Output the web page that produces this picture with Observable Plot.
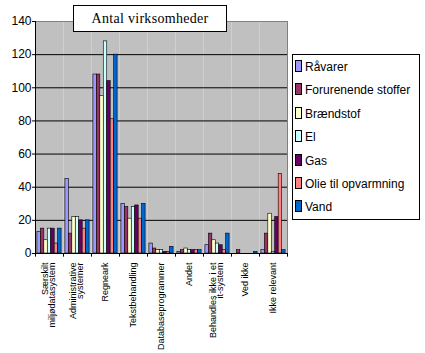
<!DOCTYPE html>
<html>
<head>
<meta charset="utf-8">
<script src="https://cdn.jsdelivr.net/npm/d3@7"></script>
<script src="https://cdn.jsdelivr.net/npm/@observablehq/plot@0.6"></script>
<style>
  html, body { margin: 0; padding: 0; background: white; }
  #wrap { position: relative; width: 425px; height: 353px; overflow: hidden; }
  #title { position: absolute; left: 73px; top: 5px; width: 152px; height: 25px; border: 1px solid black; background: white;
           font-family: "Liberation Serif", "Times New Roman", serif; font-size: 14px; line-height: 25px; text-align: center; letter-spacing: 0.3px; }
  #legend { position: absolute; left: 292px; top: 54px; width: 126px; height: 164px; border: 1px solid black; background: white;
            font-family: "Liberation Sans", Arial, sans-serif; font-size: 12px; }
  .item { position: absolute; left: 2px; height: 14px; line-height: 14px; white-space: nowrap; }
  .sw { display: inline-block; width: 5px; height: 10px; border: 1px solid black; vertical-align: -1px; margin-right: 3px; }
</style>
</head>
<body>
<div id="wrap">
  <div id="chart"></div>
  <div id="title">Antal virksomheder</div>
  <div id="legend"></div>
</div>
<script>
const categories = [
  "Særskilt\nmiljødatasystem",
  "Administrative\nsystemer",
  "Regneark",
  "Tekstbehandling",
  "Databaseprogrammer",
  "Andet",
  "Behandles ikke i et\nit-system",
  "Ved ikke",
  "Ikke relevant"
];
const series = ["Råvarer", "Forurenende stoffer", "Brændstof", "El", "Gas", "Olie til opvarmning", "Vand"];
const colors = ["#9999ff", "#993366", "#ffffcc", "#ccffff", "#660066", "#ff8080", "#0066cc"];

const raavarer    = [13, 45, 108, 30, 6, 1, 5, 0, 2];
const forurenende = [15, 12, 108, 28, 3, 2, 12, 2, 12];
const braendstof  = [8, 22, 95, 21, 2, 3, 8, 0, 24];
const el          = [15, 22, 128, 28, 2, 2, 6, 0, 1];
const gas         = [15, 20, 104, 29, 1, 2, 5, 0, 22];
const olie        = [6, 15, 81, 21, 1, 2, 2, 0, 48];
const vand        = [15, 20, 120, 30, 4, 2, 12, 1, 2];

const yTicks = [0, 20, 40, 60, 80, 100, 120, 140];
const xDom = [-0.55, 7.55];

const values = [raavarer, forurenende, braendstof, el, gas, olie, vand];
const rows = [];
categories.forEach((c, ci) => {
  series.forEach((s, si) => {
    rows.push({category: c, series: s, si, value: values[si][ci]});
  });
});
const first = categories[0];
const last = categories[categories.length - 1];

const chart = Plot.plot({
  width: 425,
  height: 353,
  marginTop: 21,
  marginLeft: 35,
  marginRight: 138,
  marginBottom: 100,
  style: {fontFamily: "Liberation Sans, Arial, sans-serif", background: "transparent"},
  fx: {domain: categories, padding: 0, axis: null},
  x: {domain: xDom, axis: null},
  y: {domain: [0, 140], axis: null},
  color: {domain: series, range: colors},
  marks: [
    Plot.frame({fill: "#c0c0c0", stroke: null}),
    Plot.ruleY(yTicks.slice(1, -1), {stroke: "black", strokeWidth: 1}),
    Plot.ruleY([140], {stroke: "#808080"}),
    Plot.rect(rows, {fx: "category", x1: "si", x2: d => d.si + 1, y1: 0, y2: "value", fill: "series", stroke: "black", strokeWidth: 0.6}),
    Plot.ruleY([0], {stroke: "black"}),
    Plot.ruleX(categories, {fx: d => d, x: xDom[0], y1: 0, y2: -2.2, stroke: "black"}),
    Plot.ruleX([last], {fx: d => d, x: xDom[1], y1: 0, y2: -2.2, stroke: "black"}),
    Plot.ruleX([first], {fx: d => d, x: xDom[0], y1: 0, y2: 140, stroke: "black"}),
    Plot.ruleX([last], {fx: d => d, x: xDom[1], y1: 0, y2: 140, stroke: "#808080"}),
    Plot.axisY(yTicks, {anchor: "left", tickSize: 3, tickPadding: 1, fontSize: 12, label: null}),
    Plot.axisFx({anchor: "bottom", tickRotate: -90, tickSize: 0, tickPadding: 9, fontSize: 9, lineHeight: 0.78, label: null})
  ]
});
document.getElementById("chart").appendChild(chart);

const legend = document.getElementById("legend");
series.forEach((s, i) => {
  const item = document.createElement("div");
  item.className = "item";
  item.style.top = (5 + i * 23.4) + "px";
  const sw = document.createElement("span");
  sw.className = "sw";
  sw.style.background = colors[i];
  item.appendChild(sw);
  item.appendChild(document.createTextNode(s));
  legend.appendChild(item);
});
</script>
</body>
</html>
